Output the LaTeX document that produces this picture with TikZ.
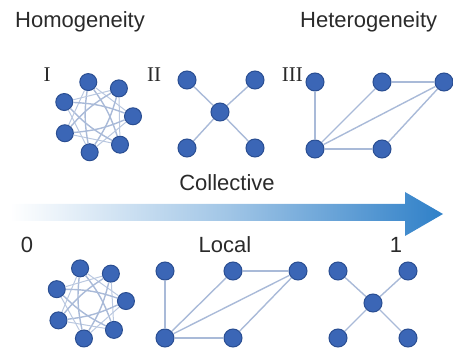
\documentclass[tikz,border=0pt]{standalone}
\usepackage{fontspec}
\setmainfont{Liberation Sans}
\newfontfamily\romanfont{Liberation Serif}
\usetikzlibrary{positioning}

\definecolor{vertblue}{HTML}{3B66B6}
\definecolor{vertedge}{HTML}{2A4E92}
\definecolor{tieblue}{HTML}{A9BAD8}
\definecolor{arrowblue}{HTML}{2F80C8}
\definecolor{txtgray}{HTML}{2A2A2A}

\begin{document}
\begin{tikzpicture}[
    x=1pt, y=-1pt,
    font=\fontsize{22}{26}\selectfont,
    vert/.style={circle, draw=vertedge, fill=vertblue, line width=1pt, minimum size=18pt, inner sep=0pt},
    svert/.style={vert, minimum size=17pt},
    tie/.style={draw=tieblue, line width=1.4pt},
    lbl/.style={text=txtgray, inner sep=0pt},
    num/.style={lbl, font=\romanfont\fontsize{21}{24}\selectfont}
  ]
    \useasboundingbox (0,0) rectangle (453,350);

    % labels
    \node[lbl, anchor=base west] (homo) at (15,28) {Homogeneity};
    \node[lbl, anchor=base west] (hete) at (300,28) {Heterogeneity};
    \node[num, anchor=base] (r1) at (47,82) {I};
    \node[num, anchor=base] (r2) at (154,82) {II};
    \node[num, anchor=base east] (r3) at (303,82) {III};

    % I : star, top
    \foreach \i in {0,...,6}
      \node[svert] (s\i) at ({97+36*cos(104-\i*51.43)},{117-36*sin(104-\i*51.43)}) {};
    \foreach \i in {0,...,6} {
      \pgfmathtruncatemacro\j{mod(\i+2,7)}
      \pgfmathtruncatemacro\k{mod(\i+3,7)}
      \draw[tie, line width=1pt, draw=tieblue!80] (s\i) -- (s\j);
      \draw[tie] (s\i) to[bend left=9] (s\k);
    }

    % II : cross, top
    \node[vert] (xc) at (220,112) {};
    \node[vert] (xa) at (187,80) {};
    \node[vert] (xb) at (255,80) {};
    \node[vert] (xd) at (187,148) {};
    \node[vert] (xe) at (255,148) {};
    \foreach \a in {xa,xb,xd,xe} \draw[tie] (xc) -- (\a);

    % III : mixed, top
    \node[vert] (ma) at (315,82) {};
    \node[vert] (mb) at (382,82) {};
    \node[vert] (mc) at (444,82) {};
    \node[vert] (md) at (315,149) {};
    \node[vert] (me) at (382,149) {};
    \foreach \a/\b in {ma/md,md/mb,md/mc,md/me,mb/mc,me/mc} \draw[tie] (\a) -- (\b);

    % axis arrow
    \shade[left color=white, right color=arrowblue, middle color=arrowblue!45]
      (10,204) -- (405,204) -- (405,192) -- (443,214) -- (405,236) -- (405,221) -- (10,221) -- cycle;
    \node[lbl, anchor=base] (coll) at (227,191) {Collective};
    \node[lbl, anchor=base] (zero) at (27,253) {0};
    \node[lbl, anchor=base] (loc) at (225,253) {Local};
    \node[lbl, anchor=base] (one) at (396,253) {1};

    % star, bottom
    \foreach \i in {0,...,6}
      \node[svert] (t\i) at ({90+36*cos(106-\i*51.43)},{303-36*sin(106-\i*51.43)}) {};
    \foreach \i in {0,...,6} {
      \pgfmathtruncatemacro\j{mod(\i+2,7)}
      \pgfmathtruncatemacro\k{mod(\i+3,7)}
      \draw[tie, line width=1pt, draw=tieblue!80] (t\i) -- (t\j);
      \draw[tie] (t\i) to[bend left=9] (t\k);
    }

    % mixed, bottom
    \node[vert] (na) at (165,271) {};
    \node[vert] (nb) at (233,271) {};
    \node[vert] (nc) at (298,271) {};
    \node[vert] (nd) at (165,338) {};
    \node[vert] (ne) at (233,338) {};
    \foreach \a/\b in {na/nd,nd/nb,nd/nc,nd/ne,nb/nc,ne/nc} \draw[tie] (\a) -- (\b);

    % cross, bottom
    \node[vert] (yc) at (373,303) {};
    \node[vert] (ya) at (338,271) {};
    \node[vert] (yb) at (408,271) {};
    \node[vert] (yd) at (338,338) {};
    \node[vert] (ye) at (408,338) {};
    \foreach \a in {ya,yb,yd,ye} \draw[tie] (yc) -- (\a);
  \end{tikzpicture}
\end{document}
